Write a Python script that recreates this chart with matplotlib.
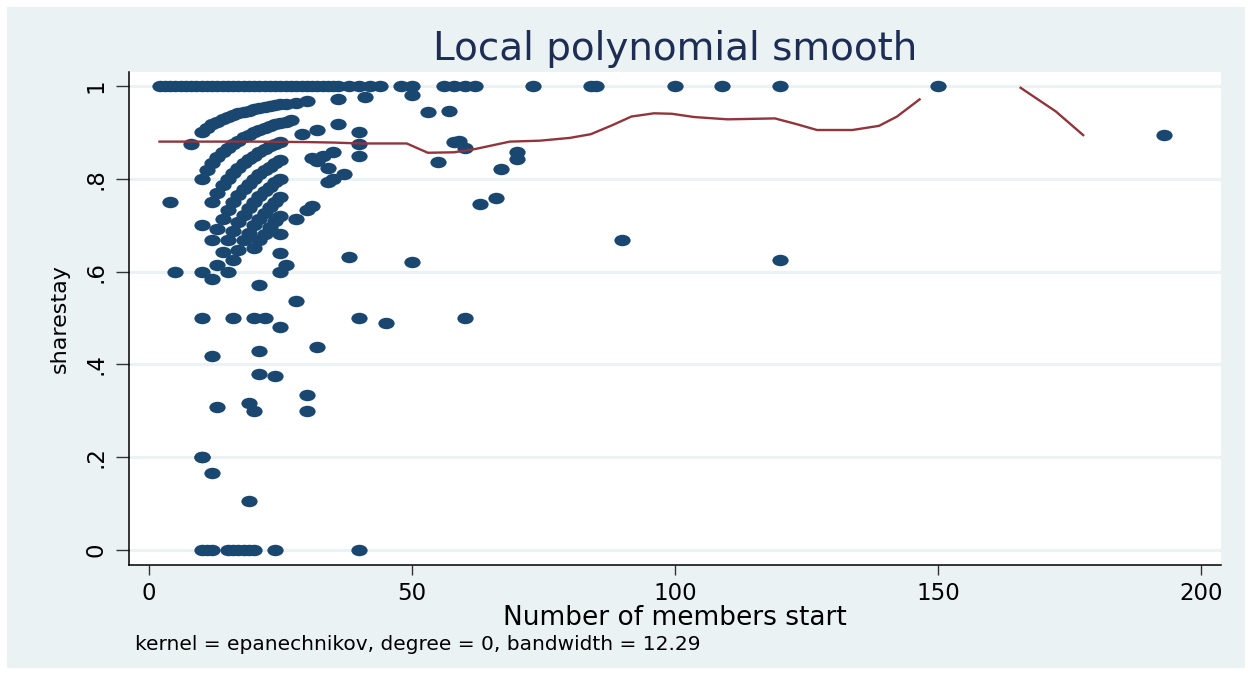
import numpy as np
import matplotlib
matplotlib.use("Agg")
import matplotlib.pyplot as plt
from matplotlib.markers import MarkerStyle
from matplotlib.transforms import Affine2D
from matplotlib.patches import Rectangle

plt.rcParams['font.family'] = ['DejaVu Sans']

# groups where everybody stayed (sharestay = 1)
full_stay_members = [2, 3, 4, 5, 6, 7, 8, 9, 10, 11, 12, 13, 14, 15, 16, 17, 18, 19,
                     20, 21, 22, 23, 24, 25, 26, 27, 28, 29, 30, 31, 32, 33, 34, 35, 36,
                     38, 40, 42, 44, 48, 50, 56, 58, 60, 62, 73, 84, 85, 100, 109, 120, 150]

# groups where nobody stayed (sharestay = 0)
zero_stay_members = [10, 11, 12, 15, 16, 17, 18, 19, 20, 24, 40]

# upper arc (one member left)
arc1_members = [8, 10, 11, 12, 13, 14, 15, 16, 17, 18, 19, 20, 21, 22, 23, 24, 25, 26,
                28, 30, 36, 41, 50]
arc1_share = [.875, .900, .909, .917, .923, .929, .933, .938, .941, .944, .947, .950,
              .952, .955, .957, .958, .960, .962, .964, .967, .972, .976, .980]

# second arc
arc2_members = [10, 11, 12, 13, 14, 15, 16, 17, 18, 19, 20, 21, 22, 23, 24, 25, 26, 27]
arc2_share = [.800, .818, .833, .846, .857, .867, .875, .882, .889, .895, .900, .905,
              .909, .913, .917, .920, .923, .926]

# third arc
arc3_members = [12, 13, 14, 15, 16, 17, 18, 19, 20, 21, 22, 23, 24, 25, 29, 32]
arc3_share = [.750, .769, .786, .800, .812, .824, .833, .842, .850, .857, .864, .870,
              .875, .880, .897, .906]

# fourth arc
arc4_members = [12, 13, 14, 15, 16, 17, 18, 19, 20, 21, 22, 23, 24, 25]
arc4_share = [.667, .692, .714, .733, .750, .765, .778, .789, .800, .810, .818, .826,
              .833, .840]

# fifth arc
arc5_members = [15, 16, 17, 18, 19, 20, 21, 22, 23, 24, 25]
arc5_share = [.667, .688, .706, .722, .737, .750, .762, .773, .783, .792, .800]

# sixth / seventh arcs
arc6_members = [16, 17, 18, 19, 20, 21, 22, 23, 24, 25, 20, 21, 22, 23, 24, 25]
arc6_share = [.625, .647, .667, .684, .700, .714, .727, .739, .750, .760,
              .650, .667, .682, .696, .708, .720]

# the rest of the scatter
other_members = [4, 5, 10, 10, 10, 10, 12, 13, 14, 15, 16, 12, 13, 10, 12, 19, 19, 20,
                 21, 24, 21, 21, 20, 22, 25, 28, 32, 30, 30, 25, 25, 26, 25,
                 28, 30, 31, 32, 31, 33, 34, 34, 35, 35, 37, 36, 40, 40, 40,
                 38, 40, 45, 50, 53, 55, 57, 58, 59, 60, 60, 63, 66, 67, 70, 70,
                 90, 120, 193]
other_share = [.750, .600, .700, .600, .500, .200, .583, .615, .643, .600, .500, .417,
               .308, .200, .167, .105, .316, .300, .379, .375, .429, .571, .500, .500,
               .480, .536, .438, .333, .300, .680, .640, .615, .600,
               .714, .733, .742, .839, .845, .848, .824, .794, .857, .800, .811, .917,
               .900, .875, .850, .632, .500, .489, .620, .943, .836, .947, .879, .881,
               .867, .500, .746, .758, .821, .857, .843, .667, .625, .895]

# local polynomial smooth (gap where Stata left it missing)
smooth_members = [2, 10, 20, 30, 35, 40, 45, 49, 53, 58, 62, 68.6, 74.3, 80, 84, 88,
                  91.7, 96, 99.4, 103.6, 110, 119, 123, 127, 133.7, 138.8, 142.2, 146.5,
                  np.nan, 165.7, 172.4, 177.6]
smooth_share = [.880, .880, .880, .879, .878, .876, .876, .876, .856, .857, .864, .880,
                .882, .888, .896, .915, .934, .941, .940, .933, .928, .930, .918, .905,
                .905, .914, .934, .971, np.nan, .996, .945, .894]

xs = (full_stay_members + zero_stay_members + arc1_members + arc2_members + arc3_members
      + arc4_members + arc5_members + arc6_members + other_members)
ys = ([1.0] * len(full_stay_members) + [0.0] * len(zero_stay_members) + arc1_share
      + arc2_share + arc3_share + arc4_share + arc5_share + arc6_share + other_share)

W, H = 1252, 675
fig = plt.figure(figsize=(W / 100, H / 100), dpi=100, facecolor='white')
fig.patches.append(Rectangle((7 / W, 1 - 668 / H), (1245 - 7) / W, (668 - 7) / H,
                             transform=fig.transFigure, facecolor='#EAF2F3',
                             edgecolor='none', zorder=-10))

ax = fig.add_axes([129 / W, 1 - 565 / H, (1221 - 129) / W, (565 - 72) / H])
ax.set_facecolor('white')

# Stata's markers come out as wide ellipses in this export
oval = MarkerStyle('o', transform=Affine2D().scale(1.42, 1.0))
ax.scatter(xs, ys, s=68, marker=oval, color='#1A476F', linewidths=0, zorder=3)
ax.plot(smooth_members, smooth_share, color='#90353B', lw=1.7, zorder=4)

ax.set_xlim(-3.8, 203.8)
ax.set_ylim(-0.0323, 1.030)

ax.set_xticks([0, 50, 100, 150, 200])
ax.set_yticks([0, .2, .4, .6, .8, 1])
ax.set_yticklabels(['0', '.2', '.4', '.6', '.8', '1'], rotation=90, va='center')
ax.tick_params(axis='x', length=7.5, width=1, pad=5, labelsize=16.5, color='#333333')
ax.tick_params(axis='y', length=9.5, width=1, pad=6, labelsize=16.5, color='#333333')

ax.grid(axis='y', color='#EAF2F3', lw=2.2, zorder=0)
ax.set_axisbelow(True)
for side in ['top', 'right']:
    ax.spines[side].set_visible(False)
for side in ['left', 'bottom']:
    ax.spines[side].set_color('black')
    ax.spines[side].set_linewidth(1.1)

ax.set_xlabel('Number of members start', fontsize=19, va='center')
ax.xaxis.set_label_coords(0.5, (565 - 618) / 493)
ax.set_ylabel('sharestay', fontsize=16, va='center')
ax.yaxis.set_label_coords((60 - 129) / 1092, 0.5)

ax.set_title('Local polynomial smooth', fontsize=28, color='#1E2D53',
             y=1 + (72 - 49) / 493, va='center', pad=0)

fig.text(135 / W, 1 - 645 / H, 'kernel = epanechnikov, degree = 0, bandwidth = 12.29',
         fontsize=14.5, va='center', ha='left')

fig.savefig('out.png', dpi=100, facecolor=fig.get_facecolor())
